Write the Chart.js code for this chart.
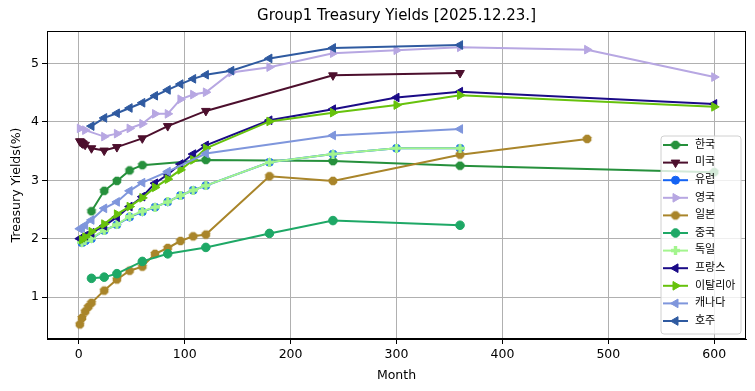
<!DOCTYPE html>
<html><head><meta charset="utf-8">
<script src="https://cdn.jsdelivr.net/npm/chart.js@4.4.1/dist/chart.umd.min.js"></script>
<style>html,body{margin:0;padding:0;background:#fff;}#wrap{width:755px;height:391px;}</style>
</head><body><div id="wrap"><canvas id="c" width="755" height="391"></canvas></div>
<script>
const chartTitle = 'Group1 Treasury Yields [2025.12.23.]';
const xLabel = 'Month';
const yLabel = 'Treasury Yields(%)';
const xTicks = [0,100,200,300,400,500,600];
const yTicks = [1,2,3,4,5];
const seriesNames = ['한국','미국','유럽','영국','일본','중국','독일','프랑스','이탈리아','캐나다','호주'];

const krMonths = [12,24,36,48,60,120,240,360,600];
const krYields = [2.47,2.82,2.99,3.17,3.26,3.35,3.33,3.25,3.14];
const usMonths = [1,2,3,4,6,12,24,36,60,84,120,240,360];
const usYields = [3.67,3.66,3.64,3.63,3.61,3.55,3.51,3.57,3.72,3.93,4.19,4.80,4.84];
const euMonths = [3,6,12,24,36,48,60,72,84,96,108,120,180,240,300,360];
const euYields = [1.93,1.96,2.00,2.14,2.24,2.37,2.46,2.54,2.63,2.74,2.83,2.91,3.31,3.45,3.55,3.55];
const ukMonths = [1,6,24,36,48,60,72,84,96,108,120,144,180,240,300,360,480,600];
const ukYields = [3.89,3.86,3.75,3.80,3.89,3.97,4.14,4.14,4.39,4.47,4.51,4.85,4.94,5.18,5.23,5.28,5.24,4.77];
const jpMonths = [1,3,6,9,12,24,36,48,60,72,84,96,108,120,180,240,360,480];
const jpYields = [0.53,0.64,0.75,0.83,0.90,1.11,1.30,1.45,1.52,1.74,1.84,1.96,2.04,2.07,3.07,2.99,3.44,3.71];
const cnMonths = [12,24,36,60,84,120,180,240,360];
const cnYields = [1.32,1.34,1.40,1.61,1.74,1.85,2.09,2.31,2.23];
const deMonths = [3,6,12,24,36,48,60,72,84,96,108,120,180,240,300,360];
const deYields = [1.94,1.97,2.01,2.14,2.24,2.38,2.47,2.54,2.63,2.74,2.83,2.91,3.31,3.45,3.55,3.55];
const frMonths = [1,3,6,12,24,36,48,60,72,84,96,108,120,180,240,300,360,600];
const frYields = [2.00,2.02,2.05,2.10,2.22,2.37,2.55,2.72,2.95,3.10,3.28,3.45,3.60,4.03,4.22,4.42,4.52,4.31];
const itMonths = [3,6,12,24,36,48,60,72,84,96,108,120,180,240,300,360,600];
const itYields = [1.98,2.03,2.12,2.25,2.42,2.55,2.70,2.88,3.02,3.18,3.35,3.55,4.01,4.16,4.29,4.46,4.26];
const caMonths = [1,3,6,12,24,36,48,60,84,120,240,360];
const caYields = [2.17,2.19,2.23,2.32,2.52,2.63,2.82,2.96,3.15,3.46,3.77,3.88];
const auMonths = [12,24,36,48,60,72,84,96,108,120,144,180,240,360];
const auYields = [3.93,4.07,4.15,4.24,4.33,4.45,4.55,4.65,4.74,4.81,4.88,5.09,5.27,5.32];

const monthsList = [krMonths,usMonths,euMonths,ukMonths,jpMonths,cnMonths,deMonths,frMonths,itMonths,caMonths,auMonths];
const yieldsList = [krYields,usYields,euYields,ukYields,jpYields,cnYields,deYields,frYields,itYields,caYields,auYields];

const colors = ['#26903c','#4c0f2d','#1463f3','#b7a7e2','#a9852a','#1ea866','#a3f58e','#1b0b87','#67c20c','#7f96dc','#2f5aa0'];

function plusMarker(color, size, arm) {
  const c = document.createElement('canvas'); c.width = size; c.height = size;
  const g = c.getContext('2d'); g.fillStyle = color;
  const a = (size - arm) / 2;
  g.fillRect(a, 0, arm, size); g.fillRect(0, a, size, arm);
  return c;
}
function octMarker(color, r) {
  const s = Math.ceil(r*2+2); const c = document.createElement('canvas'); c.width = s; c.height = s;
  const g = c.getContext('2d'); g.fillStyle = color; g.beginPath();
  for (let k = 0; k < 8; k++) { const t = Math.PI/8 + k*Math.PI/4; const px = s/2 + r*Math.cos(t), py = s/2 + r*Math.sin(t); k ? g.lineTo(px,py) : g.moveTo(px,py); }
  g.closePath(); g.fill(); return c;
}
const styles = [
  {ps: octMarker(colors[0], 4.6), rot: 0, r: 4},
  {ps: 'triangle', rot: 180, r: 5},
  {ps: 'circle', rot: 0, r: 4},
  {ps: 'triangle', rot: 90, r: 5},
  {ps: octMarker(colors[4], 4.6), rot: 0, r: 4},
  {ps: 'circle', rot: 0, r: 4.3},
  {ps: plusMarker(colors[6], 9, 3.4), rot: 0, r: 4},
  {ps: 'triangle', rot: 270, r: 5},
  {ps: 'triangle', rot: 90, r: 5},
  {ps: 'triangle', rot: 270, r: 5},
  {ps: 'triangle', rot: 270, r: 5}
];

const N = seriesNames.length;
const datasets = seriesNames.map((name, i) => ({
  label: name,
  data: monthsList[i].map((m, j) => ({x: m, y: yieldsList[i][j]})),
  borderColor: colors[i],
  backgroundColor: colors[i],
  borderWidth: 2,
  pointStyle: styles[i].ps,
  pointRotation: styles[i].rot,
  pointRadius: styles[i].r,
  pointHoverRadius: styles[i].r,
  pointBorderWidth: 1,
  pointBorderColor: colors[i],
  pointBackgroundColor: colors[i],
  tension: 0,
  order: N - i
}));

const FONT = "'DejaVu Sans', sans-serif";
const LFONT = "'DejaVu Sans', 'Noto Sans CJK KR', sans-serif";

const overlay = {
  id: 'overlay',
  afterDatasetsDraw(chart) {
    const ctx = chart.ctx, a = chart.chartArea;
    ctx.save();
    ctx.strokeStyle = '#000'; ctx.lineWidth = 1;
    ctx.strokeRect(Math.round(a.left)+0.5, Math.round(a.top)+0.5, Math.round(a.right-a.left)-1, Math.round(a.bottom-a.top)-1);
    const lx = 661, ly = 136, lw = 80, lh = 198, rr = 3;
    ctx.beginPath();
    ctx.moveTo(lx+rr, ly); ctx.lineTo(lx+lw-rr, ly); ctx.quadraticCurveTo(lx+lw, ly, lx+lw, ly+rr);
    ctx.lineTo(lx+lw, ly+lh-rr); ctx.quadraticCurveTo(lx+lw, ly+lh, lx+lw-rr, ly+lh);
    ctx.lineTo(lx+rr, ly+lh); ctx.quadraticCurveTo(lx, ly+lh, lx, ly+lh-rr);
    ctx.lineTo(lx, ly+rr); ctx.quadraticCurveTo(lx, ly, lx+rr, ly); ctx.closePath();
    ctx.fillStyle = 'rgba(255,255,255,0.8)'; ctx.fill();
    ctx.strokeStyle = '#d0d0d0'; ctx.lineWidth = 1; ctx.stroke();
    chart.data.datasets.forEach((ds, i) => {
      const cy = 145 + i * 17.6;
      ctx.strokeStyle = ds.borderColor; ctx.lineWidth = 2;
      ctx.beginPath(); ctx.moveTo(663, cy); ctx.lineTo(688, cy); ctx.stroke();
      ctx.fillStyle = ds.borderColor; ctx.strokeStyle = ds.borderColor; ctx.lineWidth = 1;
      Chart.helpers.drawPoint(ctx, {pointStyle: ds.pointStyle, rotation: ds.pointRotation, radius: ds.pointRadius, borderWidth: 1}, 675.5, cy);
      ctx.fillStyle = '#000'; ctx.font = '11px ' + LFONT; ctx.textBaseline = 'middle'; ctx.textAlign = 'left';
      ctx.fillText(ds.label, 695, cy);
    });
    ctx.fillStyle = '#000'; ctx.font = '15px ' + FONT; ctx.textAlign = 'center'; ctx.textBaseline = 'middle';
    ctx.fillText(chartTitle, (a.left + a.right) / 2, 16);
    ctx.restore();
  }
};

new Chart(document.getElementById('c'), {
  type: 'line',
  data: {datasets},
  options: {
    responsive: false, animation: false, devicePixelRatio: 1,
    layout: {padding: {top: 31, right: 9, left: 0, bottom: 0}},
    plugins: {legend: {display: false}, title: {display: false}, tooltip: {enabled: false}},
    scales: {
      x: {
        type: 'linear', min: -30, max: 630,
        afterBuildTicks: s => { s.ticks = xTicks.map(v => ({value: v})); },
        afterFit: s => { s.height = 52; },
        grid: {color: '#b0b0b0', lineWidth: 1, tickLength: 5, tickColor: '#000', drawTicks: true},
        border: {display: true, color: '#000', width: 1},
        ticks: {color: '#000', font: {family: FONT, size: 12.5}, padding: 3, maxRotation: 0},
        title: {display: true, text: xLabel, color: '#000', font: {family: FONT, size: 12.5}, padding: {top: 0, bottom: 8}}
      },
      y: {
        type: 'linear', min: 0.28, max: 5.56,
        afterBuildTicks: s => { s.ticks = yTicks.map(v => ({value: v})); },
        afterFit: s => { s.width = 47; },
        grid: {color: '#b0b0b0', lineWidth: 1, tickLength: 5, tickColor: '#000', drawTicks: true},
        border: {display: true, color: '#000', width: 1},
        ticks: {color: '#000', font: {family: FONT, size: 12.5}, padding: 3},
        title: {display: true, text: yLabel, color: '#000', font: {family: FONT, size: 12.5}, padding: {top: 9, bottom: 0}}
      }
    }
  },
  plugins: [overlay]
});
</script></body></html>
